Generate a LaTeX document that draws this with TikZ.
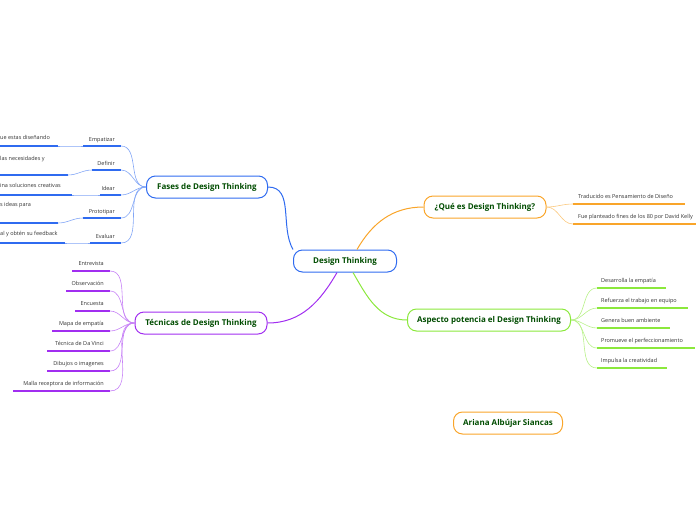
\documentclass[tikz,border=0pt]{standalone}
\usepackage{fontspec}
\setmainfont{Open Sans}
\begin{document}
\begin{tikzpicture}[x=1pt,y=-1pt,
 main/.style={draw,rounded corners=9pt,line width=1pt,minimum height=22pt,inner xsep=8pt,text=green!30!black,font=\fontsize{8}{9}\selectfont\bfseries},
 lbl/.style={font=\fontsize{5.5}{6}\selectfont,text=black!80,inner sep=1pt},
 ul/.style={line width=1.6pt},
 cn/.style={line width=0.6pt}]
\useasboundingbox (0,0) rectangle (696,520);
\definecolor{cb}{HTML}{2F6BF0}\definecolor{cp}{HTML}{A12EF0}
\definecolor{co}{HTML}{F9A52A}\definecolor{cg}{HTML}{8BE83C}
\node[main,draw=cb,minimum width=103pt] (c) at (345,261) {Design Thinking};
\node[main,draw=cb,minimum width=121pt] (f) at (207,187) {Fases de Design Thinking};
\node[main,draw=cp,minimum width=132pt] (t) at (201,323) {Técnicas de Design Thinking};
\node[main,draw=co,minimum width=122pt] (q) at (485,207) {¿Qué es Design Thinking?};
\node[main,draw=cg,minimum width=163pt] (a) at (489,320) {Aspecto potencia el Design Thinking};
\node[main,draw=co,minimum width=109pt] (n) at (508,423) {Ariana Albújar Siancas};
\draw[cb,line width=1pt] (f.east) to[out=0,in=120] (c.north west);
\draw[cp,line width=1pt] (t.east) to[out=0,in=240] ([xshift=-8pt]c.south);
\draw[co,line width=1pt] ([xshift=12pt]c.north) to[out=60,in=180] (q.west);
\draw[cg,line width=1pt] ([xshift=8pt]c.south) to[out=-60,in=180] (a.west);
% Fases
\foreach \nm/\t/\y/\xa/\ct/\cy/\cx/\ty in {e/Empatizar/146/83/ue estas diseñando/146/58/139, d/Definir/170/92/las necesidades y/175/68/160, i/Idear/195/100/ina soluciones creativas/195/72/187, p/Prototipar/218/83/s ideas para/223/58/206, v/Evaluar/243/90/al y obtén su feedback/243/65/235}{
 \coordinate (\nm a) at (\xa,\y); \coordinate (\nm b) at (121,\y);
 \coordinate (\nm c) at (0,\cy); \coordinate (\nm d) at (\cx,\cy);
 \draw[cb,ul] (\nm a)--(\nm b); \draw[cb,ul] (\nm c)--(\nm d);
 \node[lbl,anchor=base east] (\nm t) at (116,\y-5) {\t};
 \node[lbl,anchor=base west] (\nm s) at (-1,\ty) {\ct};
 \draw[cb!60,cn] (\nm b) to[out=0,in=180] (f.west);
 \draw[cb!60,cn] (\nm d) to[out=0,in=180] (\nm a);
}
% Tecnicas
\foreach \nm/\t/\y/\xa in {t1/Entrevista/271/72, t2/Observación/291/66, t3/Encuesta/311/75, t4/Mapa de empatía/331/52, t5/Técnica de Da Vinci/351/47, t6/Dibujos o imagenes/371/47, t7/Malla receptora de información/391/13}{
 \coordinate (\nm a) at (\xa,\y); \coordinate (\nm b) at (110,\y);
 \draw[cp,ul] (\nm a)--(\nm b);
 \node[lbl,anchor=base east] (\nm t) at (105,\y-6) {\t};
 \draw[cp!60,cn] (\nm b) to[out=0,in=180] (t.west);
}
% Que es
\foreach \nm/\t/\y/\xb in {q1/Traducido es Pensamiento de Diseño/204/685, q2/Fue planteado fines de los 80 por David Kelly/224/700}{
 \coordinate (\nm a) at (573,\y); \coordinate (\nm b) at (\xb,\y);
 \draw[co,ul] (\nm a)--(\nm b);
 \node[lbl,anchor=base west] (\nm t) at (577,\y-6) {\t};
 \draw[co!60,cn] (q.east) to[out=0,in=180] (\nm a);
}
% Aspecto
\foreach \nm/\t/\y/\xb in {a1/Desarrolla la empatía/288/666, a2/Refuerza el trabajo en equipo/308/688, a3/Genera buen ambiente/328/670, a4/Promueve el perfeccionamiento/348/695, a5/Impulsa la creatividad/368/667}{
 \coordinate (\nm a) at (597,\y); \coordinate (\nm b) at (\xb,\y);
 \draw[cg,ul] (\nm a)--(\nm b);
 \node[lbl,anchor=base west] (\nm t) at (600,\y-6) {\t};
 \draw[cg!60,cn] (a.east) to[out=0,in=180] (\nm a);
}
\end{tikzpicture}
\end{document}
